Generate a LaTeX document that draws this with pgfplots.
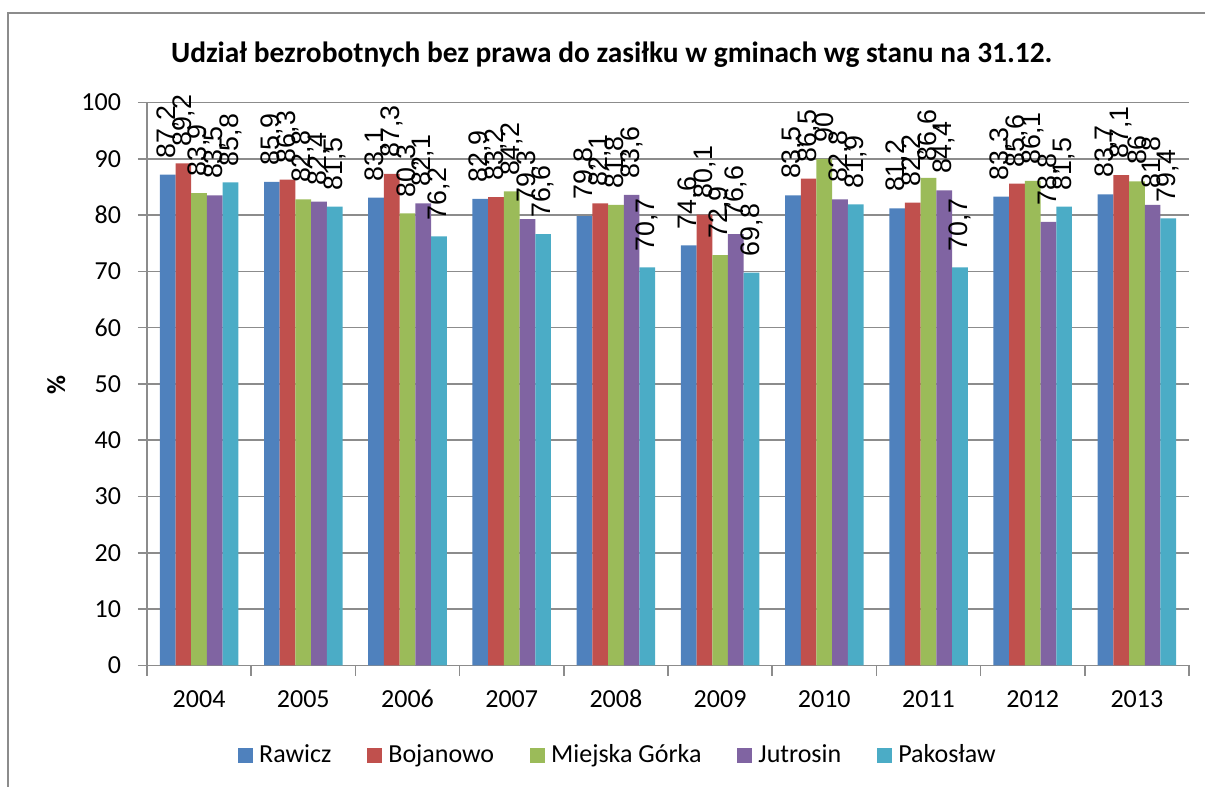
\documentclass[border=0pt]{standalone}
\usepackage{pgfplots}
\usepackage{pgfplotstable}
\pgfplotsset{compat=1.18}
\usepackage{fontspec}
\setmainfont{Carlito}
\newfontfamily\labelfont{Liberation Sans}
\definecolor{cR}{HTML}{4F81BD}
\definecolor{cB}{HTML}{C0504D}
\definecolor{cM}{HTML}{9BBB59}
\definecolor{cJ}{HTML}{8064A2}
\definecolor{cP}{HTML}{4BACC6}
\definecolor{gridgray}{HTML}{8C8C8C}
\pgfplotstableread{
x r b m j p
0 87.2 89.2 83.9 83.5 85.8
1 85.9 86.3 82.8 82.4 81.5
2 83.1 87.3 80.3 82.1 76.2
3 82.9 83.2 84.2 79.3 76.6
4 79.8 82.1 81.8 83.6 70.7
5 74.6 80.1 72.9 76.6 69.8
6 83.5 86.5 90.0 82.8 81.9
7 81.2 82.2 86.6 84.4 70.7
8 83.3 85.6 86.1 78.8 81.5
9 83.7 87.1 86.0 81.8 79.4
}\datatable
\begin{document}
\begin{tikzpicture}
\path[use as bounding box] (-73.5pt,-60.75pt) rectangle (529pt,332.75pt);
\draw[gridgray, line width=1pt] (-69.5pt,-62pt) -- (-69.5pt,326.25pt) -- (531pt,326.25pt);
\begin{axis}[
  scale only axis, width=521pt, height=281.5pt,
  clip=false,
  xmin=-0.5, xmax=9.5, ymin=0, ymax=100,
  ytick={0,10,...,100},
  xtick={0,...,9},
  xticklabels={2004,2005,2006,2007,2008,2009,2010,2011,2012,2013},
  minor xtick={-0.5,0.5,...,9.5},
  major x tick style={draw=none},
  minor tick length=5pt,
  major tick length=4.5pt,
  tick align=outside,
  tick style={gridgray, line width=0.8pt},
  axis lines*=left,
  axis line style={gridgray, line width=0.8pt},
  ymajorgrids,
  grid style={gridgray, line width=0.8pt},
  ticklabel style={font=\fontsize{13}{15}\selectfont},
  xticklabel style={text height=9pt, text depth=0pt, yshift=-4pt},
  yticklabel style={xshift=-5pt},
  /pgf/number format/.cd, use comma, fixed, precision=1, assume math mode=true,
  /pgfplots/.cd,
  ybar=0pt, bar width=7.85pt,
  nodes near coords,
  every node near coord/.append style={font=\labelfont\fontsize{13.4}{15}\selectfont, rotate=90, anchor=west, inner xsep=8pt, inner ysep=0pt, black},
  legend style={draw=none, at={(axis description cs:0.451,-0.159)}, anchor=center, legend columns=-1, font=\fontsize{13}{15}\selectfont,
    nodes={inner xsep=0pt, inner ysep=1pt},
    /tikz/every odd column/.append style={column sep=3pt},
    /tikz/every even column/.append style={column sep=18pt}},
  legend image code/.code={\fill[#1] (0pt,-3.75pt) rectangle (7.5pt,3.75pt);},
]
\addplot[fill=cR, draw=none] table[x=x, y=r] {\datatable};
\addplot[fill=cB, draw=none] table[x=x, y=b] {\datatable};
\addplot[fill=cM, draw=none] table[x=x, y=m] {\datatable};
\addplot[fill=cJ, draw=none] table[x=x, y=j] {\datatable};
\addplot[fill=cP, draw=none] table[x=x, y=p] {\datatable};
\legend{Rawicz, Bojanowo, Miejska Górka, Jutrosin, Pakosław}
\node[font=\bfseries\fontsize{14.7}{17}\selectfont] at (axis description cs:0.446,1.0845) {Udział bezrobotnych bez prawa do zasiłku w gminach wg stanu na 31.12.};
\node[font=\bfseries\fontsize{13}{15}\selectfont, rotate=90] at (axis description cs:-0.087,0.498) {\%};
\end{axis}
\end{tikzpicture}
\end{document}
